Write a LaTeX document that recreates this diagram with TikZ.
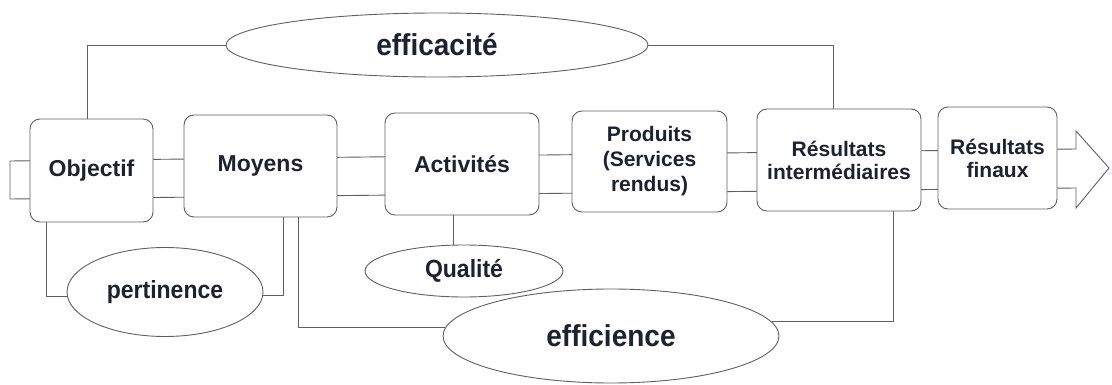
\documentclass[tikz,border=0pt]{standalone}
\usepackage{fontspec}
\setmainfont{Liberation Sans}
\usetikzlibrary{shapes.geometric}
\definecolor{ink}{RGB}{28,34,48}
\definecolor{trait}{RGB}{95,95,100}

\begin{document}
\begin{tikzpicture}[x=1pt,y=-1pt,
  box/.style={draw=trait,line width=0.9pt,fill=white,rounded corners=10pt,inner sep=0pt,align=center,text=ink,font=\bfseries\fontsize{23}{25}\selectfont},
  boxtwo/.style={box,font=\bfseries\fontsize{21}{23}\selectfont},
  oval/.style={ellipse,draw=trait,line width=0.9pt,fill=white,inner sep=0pt,text=ink},
  link/.style={draw=trait,line width=0.9pt}]
\useasboundingbox (0,0) rectangle (1112,385);
\draw[link,fill=white] (10,161) -- (1076,149) -- (1076,131) -- (1109,168) -- (1076,208) -- (1076,188) -- (10,199) -- cycle;
\node[box,minimum width=123pt,minimum height=103pt] (obj) at (91.5,170.5) {Objectif};
\node[box,minimum width=153pt,minimum height=102pt] (moy) at (260.5,166) {Moyens};
\node[box,minimum width=154pt,minimum height=102pt] (act) at (462,164) {Activités};
\node[boxtwo,minimum width=155pt,minimum height=101pt,font=\bfseries\fontsize{21}{25}\selectfont] (prod) at (649.5,161.5) {Produits\\(Services\\rendus)};
\node[boxtwo,minimum width=164pt,minimum height=102pt] (ri) at (839,160) {Résultats\\intermédiaires};
\node[boxtwo,minimum width=119pt,minimum height=102pt] (rf) at (997.5,158) {Résultats\\finaux};
\node[oval,minimum width=422pt,minimum height=64pt,font=\bfseries\fontsize{28}{30}\selectfont] (effa) at (437,45) {\scalebox{1}[1.08]{efficacité}};
\node[oval,minimum width=196pt,minimum height=89pt,font=\bfseries\fontsize{23}{25}\selectfont] (pert) at (165,292) {\scalebox{1}[1.08]{pertinence}};
\node[oval,minimum width=198pt,minimum height=52pt,font=\bfseries\fontsize{23}{25}\selectfont] (qual) at (464,271) {\scalebox{1}[1.08]{Qualité}};
\node[oval,minimum width=336pt,minimum height=94pt,font=\bfseries\fontsize{28}{30}\selectfont] (effi) at (611,336) {\scalebox{1}[1.08]{efficience}};
\draw[link] (effa.west) -| ([xshift=-4.5pt]obj.north);
\draw[link] (effa.east) -| ([xshift=-6pt]ri.north);
\draw[link] ([xshift=17pt]obj.south west) |- ([yshift=-4pt]pert.west);
\draw[link] ([xshift=-54pt]moy.south east) |- ([yshift=-3pt]pert.east);
\draw[link] ([xshift=-39pt]moy.south east) |- (effi.177);
\draw[link] ([xshift=-28pt]ri.south east) |- (effi.5);
\draw[link] ([xshift=-9pt]act.south) -- ([xshift=-9pt]act.south |- qual.north);
\end{tikzpicture}
\end{document}
